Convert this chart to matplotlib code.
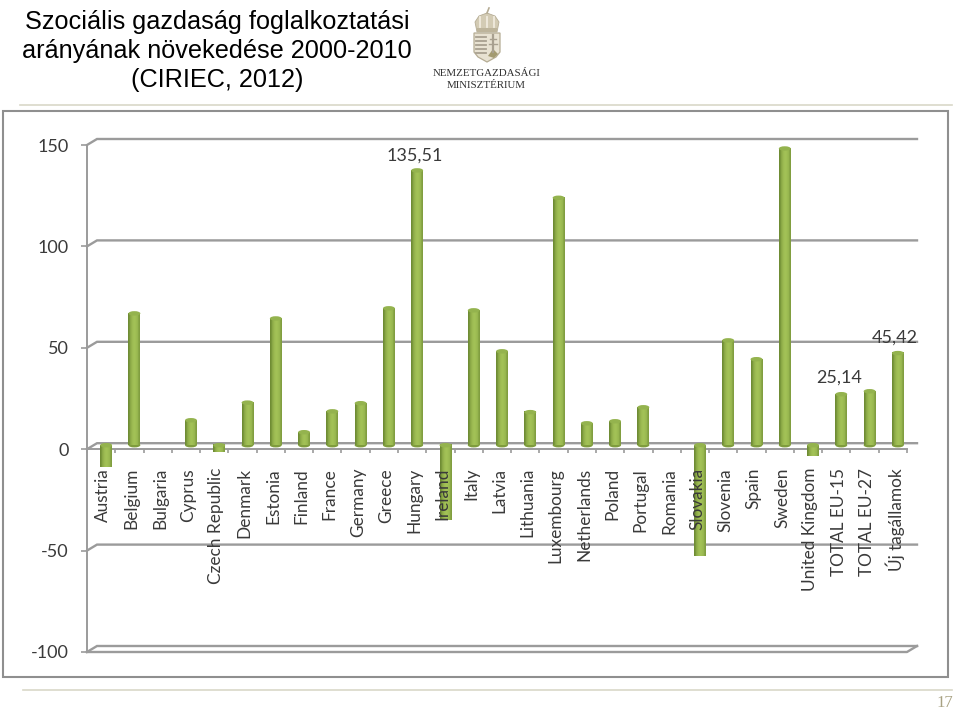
import numpy as np
import matplotlib
matplotlib.use("Agg")
import matplotlib.pyplot as plt
from matplotlib.patches import Ellipse, Polygon, Rectangle
from matplotlib.transforms import ScaledTranslation

W, H = 959, 713

countries = ["Austria", "Belgium", "Bulgaria", "Cyprus", "Czech Republic", "Denmark",
             "Estonia", "Finland", "France", "Germany", "Greece", "Hungary", "Ireland",
             "Italy", "Latvia", "Lithuania", "Luxembourg", "Netherlands", "Poland",
             "Portugal", "Romania", "Slovakia", "Slovenia", "Spain", "Sweden",
             "United Kingdom", "TOTAL EU-15", "TOTAL EU-27", "Új tagállamok"]
growth = [-10.8, 65.0, 0, 12.3, -3.5, 21.0, 62.5, 6.4, 16.7, 20.7, 67.5, 135.51, -37.0,
          66.5, 46.3, 16.3, 122.0, 10.8, 11.8, 18.7, 0, -54.7, 51.7, 42.4, 146.3,
          -5.4, 25.14, 26.6, 45.42]
yticks = [-100, -50, 0, 50, 100, 150]
shown_labels = {"Hungary": "135,51", "TOTAL EU-15": "25,14", "Új tagállamok": "45,42"}
label_shift = {"Hungary": (2, 8), "TOTAL EU-15": (2, 9), "Új tagállamok": (1, 8.5)}

title = "Szociális gazdaság foglalkoztatási\narányának növekedése 2000-2010\n(CIRIEC, 2012)"

GRAY = "#9b9b9b"
TEXT = "#3a3a3a"
plt.rcParams["font.family"] = ["Lato", "DejaVu Sans"]

fig = plt.figure(figsize=(W / 100, H / 100), dpi=100)


def to_fig(x, y):
    return x / W, 1 - y / H


# page decoration, in pixel coordinates of the slide
bg = fig.add_axes([0, 0, 1, 1], xlim=(0, W), ylim=(H, 0))
bg.axis("off")
bg.add_patch(Rectangle((3, 111), 945, 566, fc="white", ec="#8f8f8f", lw=1.5))
bg.plot([20, 952], [104.5, 104.5], color="#d9d8c8", lw=1.2)
bg.plot([23, 952], [690, 690], color="#d9d8c8", lw=1.2)
bg.text(945, 703, "17", family="Liberation Serif", fontsize=12, color="#a8a283",
        ha="center", va="center")
bg.text(217, 51, title, family="Liberation Sans", fontsize=18.2, color="black",
        ha="center", va="center", linespacing=1.24)

# logo: rough crest and name
bg.add_patch(Polygon([(474, 33), (500, 33), (500, 52), (496, 57), (487, 62), (478, 57), (474, 52)],
                     fc="#e8e2d2", ec="#b5ac94", lw=0.9))
bg.add_patch(Polygon([(477, 32), (475, 22), (479, 16), (487, 13), (495, 16), (499, 22), (497, 32)],
                     fc="#d3cbb4", ec="#b5ac94", lw=0.6))
bg.add_patch(Rectangle((477, 28), 20, 3.5, fc="#bdb49b", ec="none"))
bg.plot([487, 489], [13, 8], color="#b5ac94", lw=1.2)
for xx in [480, 487, 494]:
    bg.plot([xx, xx], [17, 27], color="#f0ebde", lw=1.3)
for yy in [37, 41, 45, 49, 53]:
    bg.plot([476, 486], [yy, yy], color="#a8a090", lw=1.3)
bg.plot([493, 493], [35, 52], color="#a8a090", lw=1.6)
bg.plot([490, 496], [39, 39], color="#a8a090", lw=1.0)
bg.plot([489, 497], [44, 44], color="#a8a090", lw=1.0)
bg.add_patch(Polygon([(488, 56), (493, 49), (498, 54), (494, 58)], fc="#a39a70", ec="none"))
bg.text(486.5, 73, "NEMZETGAZDASÁGI", family="Liberation Serif", fontsize=7.8, color="#2e2e2e",
        ha="center", va="center")
bg.text(486.5, 85.5, "MINISZTÉRIUM", family="Liberation Serif", fontsize=7.8, color="#2e2e2e",
        ha="center", va="center")

# chart axes: front plane of the fake 3D chart
x0, y_top = to_fig(87, 145)
x1, y_bot = to_fig(907, 652)
ax = fig.add_axes([x0, y_bot, x1 - x0, y_top - y_bot])
ax.patch.set_alpha(0)
n = len(countries)
ax.set_xlim(0, n)
ax.set_ylim(-100, 150)

DX = 10 / (820 / n)
DY = 6 / (507 / 250)

# back wall lines with the little slanted link to the front
for v in yticks:
    ax.plot([0, DX, n + DX], [v, v + DY, v + DY], color=GRAY, lw=1.7, clip_on=False, zorder=1,
            solid_joinstyle="miter")
ax.plot([0, n, n + DX], [-100, -100, -100 + DY], color=GRAY, lw=1.7, clip_on=False, zorder=1)

for name in ["top", "right"]:
    ax.spines[name].set_visible(False)
ax.spines["bottom"].set_position(("data", 0))
for name in ["left", "bottom"]:
    ax.spines[name].set_color(GRAY)
    ax.spines[name].set_linewidth(1.4)
ax.set_yticks(yticks)
ax.set_yticklabels([str(v) for v in yticks], fontsize=13, color=TEXT)
ax.tick_params(axis="y", length=4.5, width=1.2, color=GRAY, pad=8.5)
ax.set_xticks(np.arange(n + 1))
ax.set_xticklabels([])
ax.tick_params(axis="x", which="major", length=3, width=1.2, color=GRAY)

# bars are shifted off the front plane
shift = ax.transData + ScaledTranslation(5 / 100, 4 / 100, fig.dpi_scale_trans)
pos = np.arange(n) + 0.5
bars = ax.bar(pos, growth, width=0.42, transform=shift, color="#8fb04a", zorder=3, clip_on=False)

shade = np.array([[0.0, 0.55, 0.85, 1.0, 0.95, 0.8, 0.35]])
cmap = matplotlib.colors.LinearSegmentedColormap.from_list("barshade", ["#6f8c34", "#a3c257"])
cap_h = 2.2
for bar, v, p in zip(bars, growth, pos):
    if v == 0:
        continue
    left, w = bar.get_x(), bar.get_width()
    low, high = min(v, 0), max(v, 0)
    im = ax.imshow(shade, cmap=cmap, aspect="auto", extent=(left, left + w, low, high),
                   transform=shift, zorder=3.1, interpolation="bilinear", clip_on=False)
    im.set_clip_path(bar)
    ax.add_patch(Ellipse((p, high), w, cap_h, transform=shift, fc="#94b34e", ec="none",
                         zorder=3.3, clip_on=False))
    if v > 0:
        ax.add_patch(Ellipse((p, 0), w, cap_h, transform=shift, fc="#7f9c3d", ec="none",
                             zorder=3.0, clip_on=False))
ax.set_xlim(0, n)
ax.set_ylim(-100, 150)

# category names sit on top of the bars
for p, name in zip(pos, countries):
    ax.annotate(name, xy=(p, 0), xytext=(1.6, -13.5), textcoords="offset points", rotation=90,
                ha="center", va="top", fontsize=12.4, color=TEXT, zorder=5, annotation_clip=False)

for p, name, v in zip(pos, countries, growth):
    if name in shown_labels:
        ax.annotate(shown_labels[name], xy=(p, v), xytext=label_shift[name],
                    textcoords="offset points", ha="center", va="bottom", fontsize=13,
                    color=TEXT, zorder=5, annotation_clip=False)

fig.savefig("out.png", dpi=100)
